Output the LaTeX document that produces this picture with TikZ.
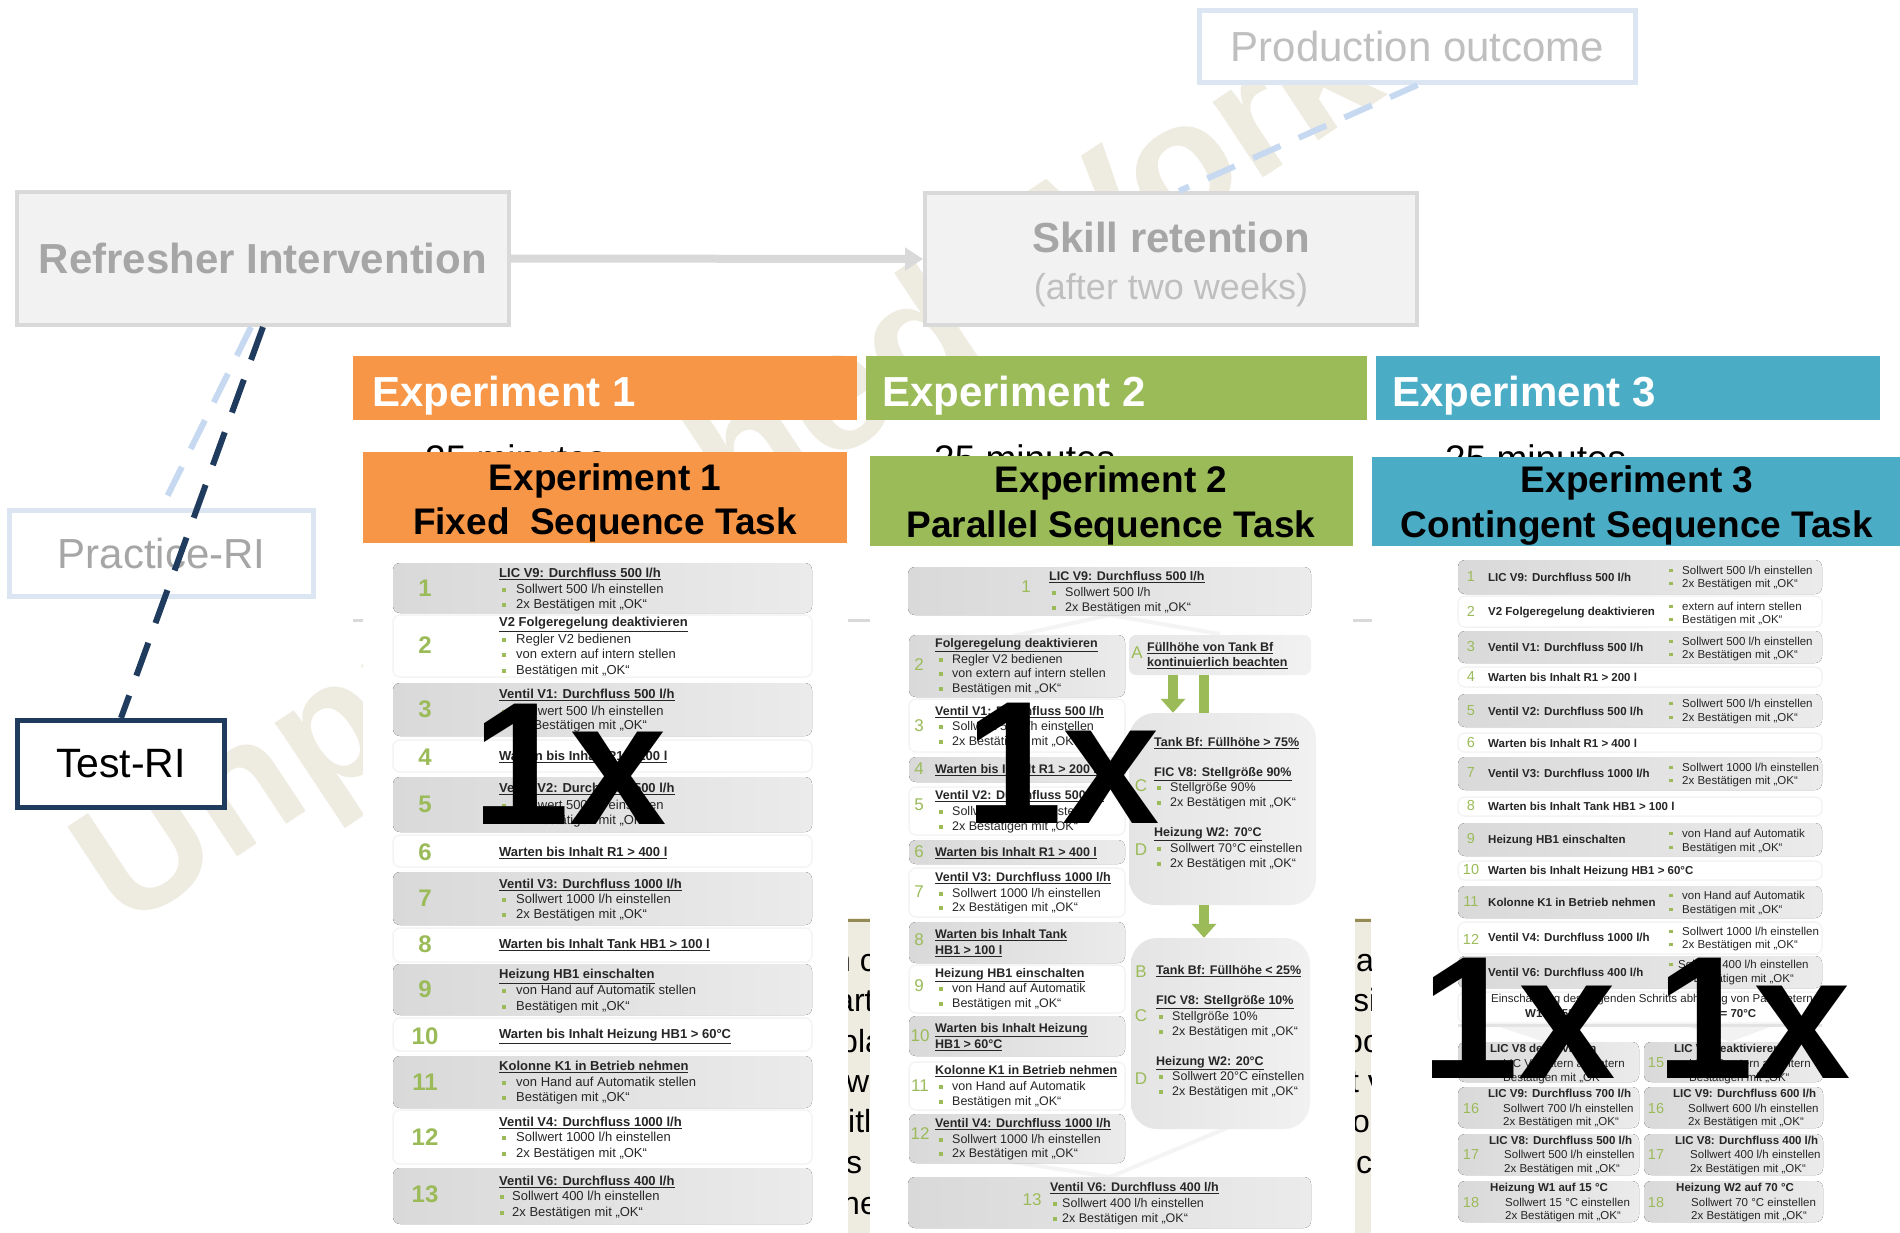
\documentclass[tikz,border=0pt]{standalone}
\usepackage{fontspec}
\setmainfont{Liberation Sans}
\usetikzlibrary{arrows.meta}

\definecolor{expA}{HTML}{F79646}
\definecolor{expB}{HTML}{9BBB59}
\definecolor{expC}{HTML}{4BACC6}
\definecolor{navy}{HTML}{1F3B5E}
\definecolor{paleblue}{HTML}{DCE6F2}
\definecolor{dashblue}{HTML}{C6D9F1}
\definecolor{boxgray}{HTML}{F2F2F2}
\definecolor{boxline}{HTML}{D9D9D9}
\definecolor{greytext}{HTML}{A6A6A6}
\definecolor{lightgreytext}{HTML}{BFBFBF}
\definecolor{beige}{HTML}{EEECE1}
\definecolor{olive}{HTML}{948A54}
\definecolor{bgreen}{HTML}{9BBB59}
\definecolor{rowdark}{HTML}{D9D9D9}
\definecolor{rowlight}{HTML}{EBEBEB}
\definecolor{rowline}{HTML}{F4F4F4}
\definecolor{textdark}{HTML}{262626}

\newcommand\fsz[1]{\fontsize{#1}{#1}\selectfont}
\newcommand\bl[1]{\makebox[#1][l]{\textcolor{bgreen}{\rule[1.8pt]{3.4pt}{3.4pt}}}}
\newcommand\ul[1]{\underline{\textbf{#1}}}
\newcommand\T[5]{\node[#1] (#2) at (#3,#4) {#5};}
\newcommand\grow[4]{\fill[rounded corners=7pt,left color=rowdark,right color=rowlight] (#1,#2) rectangle (#3,#4);}
\newcommand\wrow[4]{\draw[rounded corners=7pt,draw=rowline,line width=1.5pt,fill=white] (#1,#2) rectangle (#3,#4);}

\tikzset{
  nA/.style={inner sep=0pt,text=bgreen,font=\fsz{24}\bfseries},
  tA/.style={anchor=base west,inner sep=0pt,yshift=-4.6pt,text=textdark,font=\fsz{13}},
  nB/.style={inner sep=0pt,text=bgreen,font=\fsz{17}},
  tB/.style={anchor=base west,inner sep=0pt,yshift=-4.4pt,text=textdark,font=\fsz{12.5}},
  nC/.style={inner sep=0pt,text=bgreen,font=\fsz{14.5}},
  tC/.style={anchor=base west,inner sep=0pt,yshift=-4.1pt,text=textdark,font=\fsz{11.5}},
  strip/.style={anchor=base west,inner sep=0pt,yshift=-8pt,text=black,font=\fsz{32}},
  big/.style={anchor=base west,inner sep=0pt,text=black,font=\fsz{175}\bfseries},
  hdr/.style={anchor=north west,inner sep=0pt,minimum height=64pt},
  hdrtext/.style={anchor=base west,inner sep=0pt,text=white,font=\fsz{42}\bfseries},
  tasktext/.style={anchor=base,inner sep=0pt,font=\fsz{37}\bfseries,text=black},
  mins/.style={anchor=base west,inner sep=0pt,font=\fsz{37}},
  panel/.style={inner sep=0pt,rounded corners=26pt,left color=gray!21,right color=gray!11},
}

\begin{document}
\begin{tikzpicture}[x=1pt,y=-1pt]
\useasboundingbox (0,0) rectangle (1900,1233);
\fill[white] (0,0) rectangle (1900,1233);

% watermark
\node[rotate=33.5,anchor=base west,inner sep=0pt,text=beige,font=\fsz{172}\bfseries] (wm) at (124,932) {Unpublished Work};

% background rule and beige panels behind the task sheets
\draw[boxline,line width=3pt] (353,620) -- (1375,620);
\begin{scope}
  \clip (848,918) rectangle (870,1233);
  \fill[beige] (848,918) rectangle (870,1233);
  \draw[olive,line width=3pt] (848,920) -- (870,920);
  \node[strip] (s1a) at (833,963) {n c};
  \node[strip] (s1b) at (836,1003) {art};
  \node[strip] (s1c) at (840,1044) {pla};
  \node[strip] (s1d) at (846,1084) {wa};
  \node[strip] (s1e) at (848,1124) {itl};
  \node[strip] (s1f) at (846,1165) {s e};
  \node[strip] (s1g) at (842,1206) {ne};
\end{scope}
\begin{scope}
  \clip (1355,918) rectangle (1371,1233);
  \fill[beige] (1355,918) rectangle (1371,1233);
  \draw[olive,line width=3pt] (1355,920) -- (1371,920);
  \node[strip] (s2a) at (1356,963) {a};
  \node[strip] (s2b) at (1353,1003) {si};
  \node[strip] (s2c) at (1345,1044) {po};
  \node[strip] (s2d) at (1350,1084) {t v};
  \node[strip] (s2e) at (1352,1124) {on};
  \node[strip] (s2f) at (1356,1165) {ch};
\end{scope}

% top flow
\node[draw=paleblue,line width=5pt,fill=white,inner sep=0pt,minimum width=436pt,minimum height=72pt,
      text=lightgreytext,font=\fsz{42}] (prod) at (1417.5,46.5) {Production outcome};
\node[draw=boxline,line width=4pt,fill=boxgray,inner sep=0pt,minimum width=492pt,minimum height=133pt,
      text=greytext,font=\fsz{42}\bfseries] (refr) at (263,258.5) {Refresher Intervention};
\node[draw=boxline,line width=4pt,fill=boxgray,inner sep=0pt,minimum width=492pt,minimum height=132pt] (skill) at (1171,259) {};
\node[anchor=base,inner sep=0pt,text=greytext,font=\fsz{42}\bfseries] (skill1) at (1171,253) {Skill retention};
\node[anchor=base,inner sep=0pt,text=lightgreytext,font=\fsz{36}] (skill2) at (1171,299) {(after two weeks)};
\node[draw=paleblue,line width=5pt,fill=white,inner sep=0pt,minimum width=304pt,minimum height=86pt,
      text=greytext,font=\fsz{42}] (prac) at (161.5,553.5) {Practice-RI};
\node[draw=navy,line width=5pt,fill=white,inner sep=0pt,minimum width=207pt,minimum height=87pt,
      text=black,font=\fsz{41}] (test) at (121,764) {Test-RI};

\draw[boxline,line width=8pt,-{Triangle[width=22pt,length=18pt]}] (refr.east) -- (skill.west);
\draw[dashblue,line width=6pt,dash pattern=on 30pt off 20pt] (prod.south) -- ([xshift=8pt]skill.north);
\draw[dashblue,line width=6pt,dash pattern=on 32pt off 20pt] ([xshift=-12pt]refr.south) -- (prac.north);
\draw[navy,line width=6pt,dash pattern=on 35pt off 21pt] (refr.south) -- (test.north);

% experiment header bars
\node[hdr,fill=expA,minimum width=504pt] (h1) at (353,356) {};
\node[hdr,fill=expB,minimum width=501pt] (h2) at (866,356) {};
\node[hdr,fill=expC,minimum width=504pt] (h3) at (1376,356) {};
\node[hdrtext] (h1t) at (372,406) {Experiment 1};
\node[hdrtext] (h2t) at (882,406) {Experiment 2};
\node[hdrtext] (h3t) at (1392,406) {Experiment 3};

% durations, partly covered by the task sheets
\node[mins] (m1) at (425,471.5) {25 minutes};
\node[mins] (m2) at (934,471.5) {25 minutes};
\node[mins] (m3) at (1445,471.5) {25 minutes};

% task sheets
\fill[white] (363,543) rectangle (848,1233);
\fill[white] (870,546) rectangle (1353,1233);
\fill[white] (1372,546) rectangle (1900,1233);
\node[fill=expA,inner sep=0pt,minimum width=484pt,minimum height=91pt] (tt1) at (605,497.5) {};
\node[fill=expB,inner sep=0pt,minimum width=483pt,minimum height=90pt] (tt2) at (1111.5,501) {};
\node[fill=expC,inner sep=0pt,minimum width=528pt,minimum height=89pt] (tt3) at (1636,501.5) {};
\node[tasktext] (tt1a) at (605,490) {Experiment 1};
\node[tasktext] (tt1b) at (605,534) {Fixed\ \ Sequence Task};
\node[tasktext] (tt2a) at (1111,492) {Experiment 2};
\node[tasktext] (tt2b) at (1111,537) {Parallel Sequence Task};
\node[tasktext] (tt3a) at (1637,492) {Experiment 3};
\node[tasktext] (tt3b) at (1637,537) {Contingent Sequence Task};

% ---------- Experiment 1: fixed sequence ----------
\grow{393}{563}{812}{613}
\T{nA}{a1}{425}{588}{1}
\T{tA}{a1t}{499}{573}{\ul{LIC V9: Durchfluss 500 l/h}}
\T{tA}{a1b}{502}{589}{\bl{14pt}Sollwert 500 l/h einstellen}
\T{tA}{a1c}{502}{604}{\bl{14pt}2x Bestätigen mit „OK“}
\wrow{393}{615}{812}{677}
\T{nA}{a2}{425}{645}{2}
\T{tA}{a2t}{499}{622}{\ul{V2 Folgeregelung deaktivieren}}
\T{tA}{a2b}{502}{639}{\bl{14pt}Regler V2 bedienen}
\T{tA}{a2c}{502}{654}{\bl{14pt}von extern auf intern stellen}
\T{tA}{a2d}{502}{670}{\bl{14pt}Bestätigen mit „OK“}
\grow{393}{683}{812}{736}
\T{nA}{a3}{425}{709}{3}
\T{tA}{a3t}{499}{694}{\ul{Ventil V1: Durchfluss 500 l/h}}
\T{tA}{a3b}{502}{711}{\bl{14pt}Sollwert 500 l/h einstellen}
\T{tA}{a3c}{502}{725}{\bl{14pt}2x Bestätigen mit „OK“}
\wrow{393}{740}{812}{772}
\T{nA}{a4}{425}{757}{4}
\T{tA}{a4t}{499}{756}{\ul{Warten bis Inhalt R1 > 200 l}}
\grow{393}{777}{812}{832}
\T{nA}{a5}{425}{804}{5}
\T{tA}{a5t}{499}{788}{\ul{Ventil V2: Durchfluss 500 l/h}}
\T{tA}{a5b}{502}{805}{\bl{14pt}Sollwert 500 l/h einstellen}
\T{tA}{a5c}{502}{820}{\bl{14pt}2x Bestätigen mit „OK“}
\wrow{393}{835}{812}{867}
\T{nA}{a6}{425}{852}{6}
\T{tA}{a6t}{499}{852}{\ul{Warten bis Inhalt R1 > 400 l}}
\grow{393}{872}{812}{925}
\T{nA}{a7}{425}{898}{7}
\T{tA}{a7t}{499}{884}{\ul{Ventil V3: Durchfluss 1000 l/h}}
\T{tA}{a7b}{502}{899}{\bl{14pt}Sollwert 1000 l/h einstellen}
\T{tA}{a7c}{502}{914}{\bl{14pt}2x Bestätigen mit „OK“}
\wrow{393}{928}{812}{962}
\T{nA}{a8}{425}{944}{8}
\T{tA}{a8t}{499}{944}{\ul{Warten bis Inhalt Tank HB1 > 100 l}}
\grow{393}{964}{812}{1015}
\T{nA}{a9}{425}{989}{9}
\T{tA}{a9t}{499}{974}{\ul{Heizung HB1 einschalten}}
\T{tA}{a9b}{502}{990}{\bl{14pt}von Hand auf Automatik stellen}
\T{tA}{a9c}{502}{1006}{\bl{14pt}Bestätigen mit „OK“}
\wrow{393}{1018}{812}{1051}
\T{nA}{a10}{425}{1036}{10}
\T{tA}{a10t}{499}{1034}{\ul{Warten bis Inhalt Heizung HB1 > 60°C}}
\grow{393}{1056}{812}{1108}
\T{nA}{a11}{425}{1082}{11}
\T{tA}{a11t}{499}{1066}{\ul{Kolonne K1 in Betrieb nehmen}}
\T{tA}{a11b}{502}{1082}{\bl{14pt}von Hand auf Automatik stellen}
\T{tA}{a11c}{502}{1097}{\bl{14pt}Bestätigen mit „OK“}
\wrow{393}{1110}{812}{1164}
\T{nA}{a12}{425}{1137}{12}
\T{tA}{a12t}{499}{1122}{\ul{Ventil V4: Durchfluss 1000 l/h}}
\T{tA}{a12b}{502}{1137}{\bl{14pt}Sollwert 1000 l/h einstellen}
\T{tA}{a12c}{502}{1153}{\bl{14pt}2x Bestätigen mit „OK“}
\grow{393}{1168}{812}{1224}
\T{nA}{a13}{425}{1194}{13}
\T{tA}{a13t}{499}{1181}{\ul{Ventil V6: Durchfluss 400 l/h}}
\T{tA}{a13b}{500}{1196}{\bl{12pt}Sollwert 400 l/h einstellen}
\T{tA}{a13c}{500}{1212}{\bl{12pt}2x Bestätigen mit „OK“}

% ---------- Experiment 2: parallel sequence ----------
\draw[gray!9,line width=4pt] (1013,636) -- (1110,615) -- (1220,634);
\draw[gray!9,line width=4pt] (1013,1162) -- (1110,1177) -- (1227,1128);
\grow{908}{567}{1311}{615}
\T{nB}{b1}{1026}{587}{1}
\T{tB}{b1t}{1049}{576}{\ul{LIC V9: Durchfluss 500 l/h}}
\T{tB}{b1b}{1052}{592}{\bl{13pt}Sollwert 500 l/h}
\T{tB}{b1c}{1052}{607}{\bl{13pt}2x Bestätigen mit „OK“}
\grow{909}{635}{1125}{697}
\T{nB}{b2}{919}{665}{2}
\T{tB}{b2t}{935}{643}{\ul{Folgeregelung deaktivieren}}
\T{tB}{b2b}{939}{659}{\bl{13pt}Regler V2 bedienen}
\T{tB}{b2c}{939}{673}{\bl{13pt}von extern auf intern stellen}
\T{tB}{b2d}{939}{688}{\bl{13pt}Bestätigen mit „OK“}
\wrow{909}{699}{1125}{752}
\T{nB}{b3}{919}{726}{3}
\T{tB}{b3t}{935}{711}{\ul{Ventil V1: Durchfluss 500 l/h}}
\T{tB}{b3b}{939}{726}{\bl{13pt}Sollwert 500 l/h einstellen}
\T{tB}{b3c}{939}{741}{\bl{13pt}2x Bestätigen mit „OK“}
\grow{909}{757}{1125}{782}
\T{nB}{b4}{919}{769}{4}
\T{tB}{b4t}{935}{769}{\ul{Warten bis Inhalt R1 > 200 l}}
\wrow{909}{787}{1125}{835}
\T{nB}{b5}{919}{805}{5}
\T{tB}{b5t}{935}{795}{\ul{Ventil V2: Durchfluss 500 l/h}}
\T{tB}{b5b}{939}{811}{\bl{13pt}Sollwert 500 l/h einstellen}
\T{tB}{b5c}{939}{826}{\bl{13pt}2x Bestätigen mit „OK“}
\grow{909}{840}{1125}{864}
\T{nB}{b6}{919}{852}{6}
\T{tB}{b6t}{935}{852}{\ul{Warten bis Inhalt R1 > 400 l}}
\wrow{909}{868}{1125}{917}
\T{nB}{b7}{919}{892}{7}
\T{tB}{b7t}{935}{877}{\ul{Ventil V3: Durchfluss 1000 l/h}}
\T{tB}{b7b}{939}{893}{\bl{13pt}Sollwert 1000 l/h einstellen}
\T{tB}{b7c}{939}{907}{\bl{13pt}2x Bestätigen mit „OK“}
\grow{909}{922}{1125}{963}
\T{nB}{b8}{919}{940}{8}
\T{tB}{b8t}{935}{934}{\ul{Warten bis Inhalt Tank}}
\T{tB}{b8u}{935}{950}{\ul{HB1 > 100 l}}
\wrow{909}{965}{1125}{1013}
\T{nB}{b9}{919}{986}{9}
\T{tB}{b9t}{935}{973}{\ul{Heizung HB1 einschalten}}
\T{tB}{b9b}{939}{988}{\bl{13pt}von Hand auf Automatik}
\T{tB}{b9c}{939}{1003}{\bl{13pt}Bestätigen mit „OK“}
\grow{909}{1016}{1125}{1056}
\T{nB}{b10}{920}{1036}{10}
\T{tB}{b10t}{935}{1028}{\ul{Warten bis Inhalt Heizung}}
\T{tB}{b10u}{935}{1044}{\ul{HB1 > 60°C}}
\wrow{909}{1062}{1125}{1110}
\T{nB}{b11}{920}{1086}{11}
\T{tB}{b11t}{935}{1070}{\ul{Kolonne K1 in Betrieb nehmen}}
\T{tB}{b11b}{939}{1086}{\bl{13pt}von Hand auf Automatik}
\T{tB}{b11c}{939}{1101}{\bl{13pt}Bestätigen mit „OK“}
\grow{909}{1114}{1125}{1163}
\T{nB}{b12}{920}{1134}{12}
\T{tB}{b12t}{935}{1123}{\ul{Ventil V4: Durchfluss 1000 l/h}}
\T{tB}{b12b}{939}{1139}{\bl{13pt}Sollwert 1000 l/h einstellen}
\T{tB}{b12c}{939}{1153}{\bl{13pt}2x Bestätigen mit „OK“}
\grow{908}{1177}{1311}{1228}
\T{nB}{b13}{1032}{1200}{13}
\T{tB}{b13t}{1050}{1187}{\ul{Ventil V6: Durchfluss 400 l/h}}
\T{tB}{b13b}{1053}{1203}{\bl{9pt}Sollwert 400 l/h einstellen}
\T{tB}{b13c}{1053}{1218}{\bl{9pt}2x Bestätigen mit „OK“}

% parallel branch
\node[inner sep=0pt,rounded corners=7pt,left color=gray!19,right color=gray!11,minimum width=182pt,minimum height=40pt] (boxA) at (1220,655) {};
\T{nB}{bA}{1137}{653}{A}
\T{tB}{bAt}{1147}{647}{\ul{Füllhöhe von Tank Bf}}
\T{tB}{bAu}{1147}{662}{\ul{kontinuierlich beachten}}
\node[panel,minimum width=187pt,minimum height=192pt] (pan1) at (1222.5,809) {};
\node[panel,minimum width=179pt,minimum height=191pt] (pan2) at (1220.5,1033.5) {};
\draw[bgreen,line width=10pt,-{Triangle[width=24pt,length=14pt]}] ([xshift=-47pt]boxA.south) -- ([xshift=-49.5pt]pan1.north);
\draw[bgreen,line width=10pt] ([xshift=-16pt]boxA.south) -- ([xshift=-18.5pt]pan1.north);
\draw[bgreen,line width=10pt,-{Triangle[width=24pt,length=14pt]}] ([xshift=-18.5pt]pan1.south) -- ([xshift=-16.5pt]pan2.north);
\T{tB}{p1a}{1154}{742}{\ul{Tank Bf: Füllhöhe > 75\%}}
\T{tB}{p1b}{1154}{772}{\ul{FIC V8: Stellgröße 90\%}}
\T{nB}{p1C}{1141}{786}{C}
\T{tB}{p1c}{1157}{787}{\bl{13pt}Stellgröße 90\%}
\T{tB}{p1d}{1157}{802}{\bl{13pt}2x Bestätigen mit „OK“}
\T{tB}{p1e}{1154}{832}{\ul{Heizung W2: 70°C}}
\T{nB}{p1D}{1141}{850}{D}
\T{tB}{p1f}{1157}{848}{\bl{13pt}Sollwert 70°C einstellen}
\T{tB}{p1g}{1157}{863}{\bl{13pt}2x Bestätigen mit „OK“}
\T{nB}{p2B}{1141}{972}{B}
\T{tB}{p2a}{1156}{970}{\ul{Tank Bf: Füllhöhe < 25\%}}
\T{tB}{p2b}{1156}{1000}{\ul{FIC V8: Stellgröße 10\%}}
\T{nB}{p2C}{1141}{1016}{C}
\T{tB}{p2c}{1159}{1016}{\bl{13pt}Stellgröße 10\%}
\T{tB}{p2d}{1159}{1031}{\bl{13pt}2x Bestätigen mit „OK“}
\T{tB}{p2e}{1156}{1061}{\ul{Heizung W2: 20°C}}
\T{nB}{p2D}{1141}{1079}{D}
\T{tB}{p2f}{1159}{1076}{\bl{13pt}Sollwert 20°C einstellen}
\T{tB}{p2g}{1159}{1091}{\bl{13pt}2x Bestätigen mit „OK“}

% ---------- Experiment 3: contingent sequence ----------
\grow{1458}{560}{1822}{594}
\T{nC}{c1}{1471}{577}{1}
\T{tC}{c1t}{1488}{577}{\textbf{LIC V9: Durchfluss 500 l/h}}
\T{tC}{c1b}{1669}{570}{\bl{13pt}Sollwert 500 l/h einstellen}
\T{tC}{c1c}{1669}{583}{\bl{13pt}2x Bestätigen mit „OK“}
\wrow{1458}{596}{1822}{627}
\T{nC}{c2}{1471}{611}{2}
\T{tC}{c2t}{1488}{611}{\textbf{V2 Folgeregelung deaktivieren}}
\T{tC}{c2b}{1669}{606}{\bl{13pt}extern auf intern stellen}
\T{tC}{c2c}{1669}{619}{\bl{13pt}Bestätigen mit „OK“}
\grow{1458}{631}{1822}{663}
\T{nC}{c3}{1471}{647}{3}
\T{tC}{c3t}{1488}{647}{\textbf{Ventil V1: Durchfluss 500 l/h}}
\T{tC}{c3b}{1669}{641}{\bl{13pt}Sollwert 500 l/h einstellen}
\T{tC}{c3c}{1669}{654}{\bl{13pt}2x Bestätigen mit „OK“}
\wrow{1458}{667}{1822}{687}
\T{nC}{c4}{1471}{677}{4}
\T{tC}{c4t}{1488}{677}{\textbf{Warten bis Inhalt R1 > 200 l}}
\grow{1458}{694}{1822}{727}
\T{nC}{c5}{1471}{711}{5}
\T{tC}{c5t}{1488}{711}{\textbf{Ventil V2: Durchfluss 500 l/h}}
\T{tC}{c5b}{1669}{703}{\bl{13pt}Sollwert 500 l/h einstellen}
\T{tC}{c5c}{1669}{717}{\bl{13pt}2x Bestätigen mit „OK“}
\wrow{1458}{733}{1822}{752}
\T{nC}{c6}{1471}{743}{6}
\T{tC}{c6t}{1488}{743}{\textbf{Warten bis Inhalt R1 > 400 l}}
\grow{1458}{757}{1822}{790}
\T{nC}{c7}{1471}{773}{7}
\T{tC}{c7t}{1488}{773}{\textbf{Ventil V3: Durchfluss 1000 l/h}}
\T{tC}{c7b}{1669}{767}{\bl{13pt}Sollwert 1000 l/h einstellen}
\T{tC}{c7c}{1669}{780}{\bl{13pt}2x Bestätigen mit „OK“}
\wrow{1458}{797}{1822}{816}
\T{nC}{c8}{1471}{806}{8}
\T{tC}{c8t}{1488}{806}{\textbf{Warten bis Inhalt Tank HB1 > 100 l}}
\grow{1458}{823}{1822}{856}
\T{nC}{c9}{1471}{839}{9}
\T{tC}{c9t}{1488}{839}{\textbf{Heizung HB1 einschalten}}
\T{tC}{c9b}{1669}{833}{\bl{13pt}von Hand auf Automatik}
\T{tC}{c9c}{1669}{847}{\bl{13pt}Bestätigen mit „OK“}
\wrow{1458}{861}{1822}{880}
\T{nC}{c10}{1471}{870}{10}
\T{tC}{c10t}{1488}{870}{\textbf{Warten bis Inhalt Heizung HB1 > 60°C}}
\grow{1458}{886}{1822}{918}
\T{nC}{c11}{1471}{902}{11}
\T{tC}{c11t}{1488}{902}{\textbf{Kolonne K1 in Betrieb nehmen}}
\T{tC}{c11b}{1669}{895}{\bl{13pt}von Hand auf Automatik}
\T{tC}{c11c}{1669}{909}{\bl{13pt}Bestätigen mit „OK“}
\wrow{1458}{922}{1822}{954}
\T{nC}{c12}{1471}{939}{12}
\T{tC}{c12t}{1488}{937}{\textbf{Ventil V4: Durchfluss 1000 l/h}}
\T{tC}{c12b}{1669}{931}{\bl{13pt}Sollwert 1000 l/h einstellen}
\T{tC}{c12c}{1669}{944}{\bl{13pt}2x Bestätigen mit „OK“}
\grow{1458}{956}{1822}{988}
\T{nC}{c13}{1471}{972}{13}
\T{tC}{c13t}{1488}{972}{\textbf{Ventil V6: Durchfluss 400 l/h}}
\T{tC}{c13b}{1669}{964}{\bl{9pt}Sollwert 400 l/h einstellen}
\T{tC}{c13c}{1669}{978}{\bl{9pt}2x Bestätigen mit „OK“}
\wrow{1458}{992}{1822}{1023}
\T{nC}{c14}{1471}{1005}{14}
\T{tC}{c14t}{1491}{998}{Einschätzung des folgenden Schritts abhängig von Parametern}
\T{tC}{c14b}{1525}{1013}{\textbf{W1 = 15°C}}
\T{tC}{c14c}{1700}{1013}{\textbf{W2 = 70°C}}
\draw[gray!22,line width=3pt] (1458,1025) -- (1822,1025);
\fill[gray!10] (1500,1027) -- (1580,1027) -- (1545,1042) -- cycle;
\fill[gray!10] (1690,1027) -- (1770,1027) -- (1730,1042) -- cycle;
% two outcome branches
\grow{1458}{1042}{1639}{1082}
\grow{1644}{1042}{1823}{1082}
\T{nC}{c15}{1471}{1063}{15}
\T{tC}{c15t}{1490}{1048}{\textbf{LIC V8 deaktivieren}}
\T{tC}{c15b}{1503}{1063}{LIC V8 extern auf intern}
\T{tC}{c15c}{1503}{1077}{Bestätigen mit „OK“}
\T{nC}{d15}{1656}{1063}{15}
\T{tC}{d15t}{1674}{1048}{\textbf{LIC V8 deaktivieren}}
\T{tC}{d15b}{1689}{1063}{LIC V8 extern auf intern}
\T{tC}{d15c}{1689}{1077}{Bestätigen mit „OK“}
\grow{1458}{1087}{1639}{1128}
\grow{1644}{1087}{1823}{1128}
\T{nC}{c16}{1471}{1108}{16}
\T{tC}{c16t}{1488}{1093}{\textbf{LIC V9: Durchfluss 700 l/h}}
\T{tC}{c16b}{1503}{1108}{Sollwert 700 l/h einstellen}
\T{tC}{c16c}{1503}{1121}{2x Bestätigen mit „OK“}
\T{nC}{d16}{1656}{1108}{16}
\T{tC}{d16t}{1673}{1093}{\textbf{LIC V9: Durchfluss 600 l/h}}
\T{tC}{d16b}{1688}{1108}{Sollwert 600 l/h einstellen}
\T{tC}{d16c}{1688}{1121}{2x Bestätigen mit „OK“}
\grow{1458}{1134}{1639}{1175}
\grow{1644}{1134}{1823}{1175}
\T{nC}{c17}{1471}{1154}{17}
\T{tC}{c17t}{1489}{1140}{\textbf{LIC V8: Durchfluss 500 l/h}}
\T{tC}{c17b}{1504}{1154}{Sollwert 500 l/h einstellen}
\T{tC}{c17c}{1504}{1168}{2x Bestätigen mit „OK“}
\T{nC}{d17}{1656}{1154}{17}
\T{tC}{d17t}{1675}{1140}{\textbf{LIC V8: Durchfluss 400 l/h}}
\T{tC}{d17b}{1690}{1154}{Sollwert 400 l/h einstellen}
\T{tC}{d17c}{1690}{1168}{2x Bestätigen mit „OK“}
\grow{1458}{1181}{1639}{1222}
\grow{1644}{1181}{1823}{1222}
\T{nC}{c18}{1471}{1202}{18}
\T{tC}{c18t}{1490}{1187}{\textbf{Heizung W1 auf 15 °C}}
\T{tC}{c18b}{1505}{1202}{Sollwert 15 °C einstellen}
\T{tC}{c18c}{1505}{1215}{2x Bestätigen mit „OK“}
\T{nC}{d18}{1656}{1202}{18}
\T{tC}{d18t}{1676}{1187}{\textbf{Heizung W2 auf 70 °C}}
\T{tC}{d18b}{1691}{1202}{Sollwert 70 °C einstellen}
\T{tC}{d18c}{1691}{1215}{2x Bestätigen mit „OK“}

% repetition marks
\node[big] (r1) at (472,824) {1x};
\node[big] (r2) at (965,823) {1x};
\node[big] (r3) at (1421,1078) {1x};
\node[big] (r4) at (1656,1078) {1x};
\end{tikzpicture}
\end{document}
